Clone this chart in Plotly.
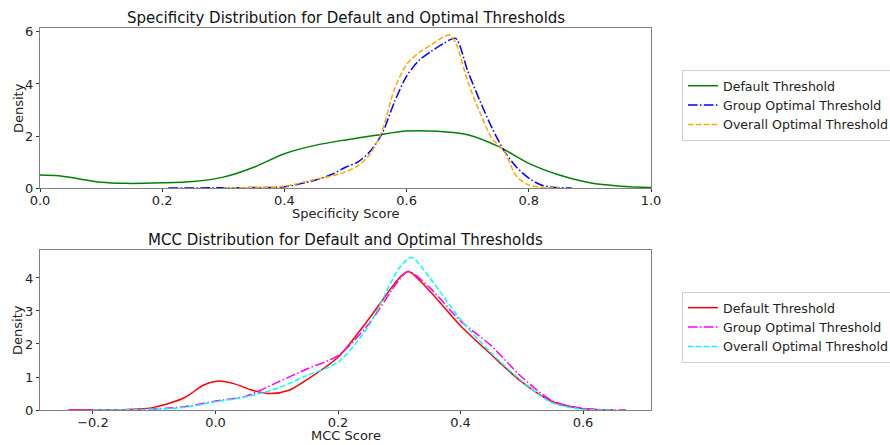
import plotly.graph_objects as go

# ---- data ----
spec_default_x = [0.0, 0.03, 0.06, 0.1, 0.14, 0.2, 0.25, 0.3, 0.35, 0.4, 0.45, 0.5, 0.55, 0.6, 0.65, 0.7, 0.75, 0.8, 0.85, 0.9, 0.95, 1.0]
spec_default_y = [0.5, 0.47, 0.37, 0.22, 0.18, 0.2, 0.25, 0.42, 0.8, 1.32, 1.64, 1.85, 2.03, 2.19, 2.18, 2.05, 1.6, 0.95, 0.5, 0.2, 0.07, 0.02]

spec_group_x = [0.21, 0.3, 0.35, 0.4, 0.45, 0.48, 0.5, 0.52, 0.54, 0.56, 0.58, 0.6, 0.62, 0.64, 0.66, 0.68, 0.7, 0.72, 0.74, 0.76, 0.78, 0.8, 0.82, 0.84, 0.87]
spec_group_y = [0.0, 0.01, 0.02, 0.05, 0.3, 0.55, 0.8, 1.0, 1.4, 2.1, 3.3, 4.3, 4.9, 5.25, 5.55, 5.75, 4.5, 3.35, 2.3, 1.42, 0.8, 0.38, 0.12, 0.03, 0.0]

spec_overall_x = [0.3, 0.35, 0.4, 0.45, 0.48, 0.5, 0.52, 0.54, 0.56, 0.58, 0.6, 0.62, 0.64, 0.66, 0.67, 0.68, 0.7, 0.72, 0.74, 0.76, 0.78, 0.8, 0.82, 0.85]
spec_overall_y = [0.0, 0.02, 0.07, 0.33, 0.48, 0.62, 0.85, 1.3, 2.2, 3.8, 4.75, 5.2, 5.5, 5.8, 5.88, 5.6, 4.1, 2.9, 1.9, 1.4, 0.45, 0.12, 0.03, 0.0]

mcc_default_x = [-0.24, -0.15, -0.1, -0.05, -0.02, 0.005, 0.03, 0.06, 0.09, 0.12, 0.15, 0.2, 0.25, 0.3, 0.315, 0.35, 0.4, 0.45, 0.5, 0.55, 0.6, 0.65]
mcc_default_y = [0.0, 0.01, 0.08, 0.38, 0.75, 0.88, 0.8, 0.6, 0.5, 0.6, 0.93, 1.6, 2.75, 4.0, 4.2, 3.6, 2.55, 1.68, 0.85, 0.25, 0.04, 0.0]

mcc_group_x = [-0.24, -0.15, -0.1, -0.05, 0.0, 0.05, 0.1, 0.15, 0.2, 0.25, 0.3, 0.315, 0.35, 0.4, 0.43, 0.45, 0.5, 0.55, 0.6, 0.67]
mcc_group_y = [0.0, 0.01, 0.03, 0.1, 0.27, 0.42, 0.83, 1.25, 1.65, 2.6, 3.95, 4.2, 3.7, 2.7, 2.25, 1.95, 1.0, 0.28, 0.05, 0.0]

mcc_overall_x = [-0.2, -0.1, -0.05, 0.0, 0.05, 0.1, 0.15, 0.2, 0.25, 0.3, 0.32, 0.35, 0.4, 0.45, 0.5, 0.55, 0.6, 0.65]
mcc_overall_y = [0.0, 0.02, 0.08, 0.25, 0.4, 0.65, 1.05, 1.45, 2.55, 4.3, 4.62, 4.0, 2.74, 1.73, 0.88, 0.22, 0.02, 0.0]

series_names = ["Default Threshold", "Group Optimal Threshold", "Overall Optimal Threshold"]
titles = ["Specificity Distribution for Default and Optimal Thresholds",
          "MCC Distribution for Default and Optimal Thresholds"]
x_titles = ["Specificity Score", "MCC Score"]
y_title = "Density"

FONT = "DejaVu Sans"
DASH = "5.5px,2.4px"
DASHDOT = "9.6px,2.4px,1.5px,2.4px"

fig = go.Figure()

def add(x, y, name, color, dash, xa, ya, legend):
    fig.add_trace(go.Scatter(x=x, y=y, name=name, mode="lines",
                             line=dict(color=color, width=1.5, dash=dash, shape="spline", smoothing=0.8),
                             xaxis=xa, yaxis=ya, legend=legend))

add(spec_default_x, spec_default_y, series_names[0], "green", "solid", "x", "y", "legend")
add(spec_group_x, spec_group_y, series_names[1], "blue", DASHDOT, "x", "y", "legend")
add(spec_overall_x, spec_overall_y, series_names[2], "orange", DASH, "x", "y", "legend")
add(mcc_default_x, mcc_default_y, series_names[0], "red", "solid", "x2", "y2", "legend2")
add(mcc_group_x, mcc_group_y, series_names[1], "magenta", DASHDOT, "x2", "y2", "legend2")
add(mcc_overall_x, mcc_overall_y, series_names[2], "cyan", DASH, "x2", "y2", "legend2")

axis_common = dict(showline=True, linecolor="#808080", linewidth=1, mirror=True, automargin=False,
                   ticks="outside", ticklen=3, tickcolor="#333", showgrid=False, zeroline=False,
                   tickfont=dict(family=FONT, size=13, color="#222"))

top_dom = [0.581, 1.0]
bot_dom = [0.0, 0.419]

ann_font = dict(family=FONT, size=13, color="#222")
annotations = [
    dict(text=titles[0], x=0.5, y=top_dom[1], xref="paper", yref="paper", xanchor="center", yanchor="bottom",
         yshift=-1, showarrow=False, font=dict(family=FONT, size=15, color="#111")),
    dict(text=titles[1], x=0.5, y=bot_dom[1], xref="paper", yref="paper", xanchor="center", yanchor="bottom",
         yshift=-1, showarrow=False, font=dict(family=FONT, size=15, color="#111")),
    dict(text=x_titles[0], x=0.5, y=top_dom[0], xref="paper", yref="paper", xanchor="center", yanchor="middle",
         yshift=-25, showarrow=False, font=ann_font),
    dict(text=x_titles[1], x=0.5, y=bot_dom[0], xref="paper", yref="paper", xanchor="center", yanchor="middle",
         yshift=-25, showarrow=False, font=ann_font),
    dict(text=y_title, x=0, y=(top_dom[0] + top_dom[1]) / 2, xref="paper", yref="paper", xanchor="center",
         yanchor="middle", xshift=-22, textangle=-90, showarrow=False, font=ann_font),
    dict(text=y_title, x=0, y=(bot_dom[0] + bot_dom[1]) / 2, xref="paper", yref="paper", xanchor="center",
         yanchor="middle", xshift=-22, textangle=-90, showarrow=False, font=ann_font),
]

legend_common = dict(xanchor="left", yanchor="top", bgcolor="white", bordercolor="#d0d0d0", borderwidth=1,
                     font=dict(family=FONT, size=12.6, color="#222"), tracegroupgap=0, itemwidth=30)

fig.update_layout(
    width=890, height=445,
    margin=dict(l=40, r=239, t=28, b=35, autoexpand=False),
    plot_bgcolor="white", paper_bgcolor="white",
    font=dict(family=FONT, size=13, color="#222"),
    xaxis=dict(domain=[0, 1], anchor="y", range=[0, 1], tickvals=[0, 0.2, 0.4, 0.6, 0.8, 1.0], tickformat=".1f",
               ticklabelstandoff=-3, **axis_common),
    yaxis=dict(domain=top_dom, anchor="x", range=[0, 6.15], tickvals=[0, 2, 4, 6], **axis_common),
    xaxis2=dict(domain=[0, 1], anchor="y2", range=[-0.2865, 0.711], tickvals=[-0.2, 0, 0.2, 0.4, 0.6], tickformat=".1f",
                ticklabelstandoff=-3, **axis_common),
    yaxis2=dict(domain=bot_dom, anchor="x2", range=[0, 4.85], tickvals=[0, 1, 2, 3, 4], **axis_common),
    legend=dict(x=1.0507, y=0.890, **legend_common),
    legend2=dict(x=1.0507, y=0.309, **legend_common),
    annotations=annotations,
)

fig.write_html("out.html", config={"displayModeBar": False},
               post_script="document.body.style.margin='0';document.body.style.padding='0';")
